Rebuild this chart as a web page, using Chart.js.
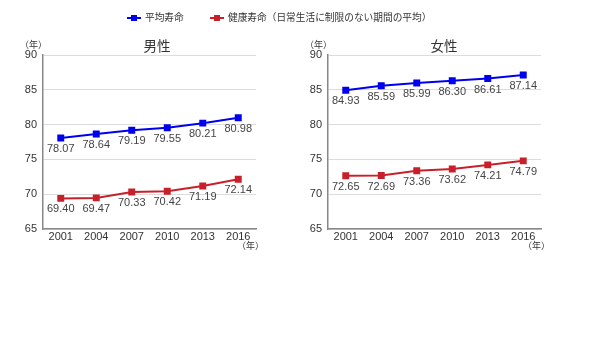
<!DOCTYPE html>
<html><head><meta charset="utf-8">
<script src="https://cdn.jsdelivr.net/npm/chart.js@4.4.0/dist/chart.umd.min.js"></script>
<style>
html,body{margin:0;padding:0;background:#fff;width:592px;height:355px;overflow:hidden;font-family:"Liberation Sans","Noto Sans CJK JP",sans-serif;}
.abs{position:absolute;white-space:nowrap;color:#333;}
#c1{position:absolute;left:0;top:0;}
#c2{position:absolute;left:296px;top:0;}
.leg{font-size:9.7px;font-family:"Noto Sans CJK JP",sans-serif;color:#333;}
.mk{position:absolute;height:2px;width:14px;}
.mk i{position:absolute;left:4px;top:-2px;width:6px;height:6px;}
.ttl{font-size:13.5px;font-family:"Noto Sans CJK JP",sans-serif;color:#333;transform:translateX(-50%);}
.unit{font-size:9px;font-family:"Noto Sans CJK JP",sans-serif;color:#333;}
</style></head>
<body>
<canvas id="c1" width="296" height="355"></canvas>
<canvas id="c2" width="296" height="355"></canvas>
<div class="mk" style="left:127px;top:17px;background:#0000ee"><i style="background:#0000ee"></i></div>
<div class="abs leg" style="left:145px;top:10px">平均寿命</div>
<div class="mk" style="left:210px;top:17px;background:#c8202a"><i style="background:#c8202a"></i></div>
<div class="abs leg" style="left:228px;top:10px">健康寿命（日常生活に制限のない期間の平均）</div>
<div class="abs ttl" style="left:157px;top:35px">男性</div>
<div class="abs ttl" style="left:444px;top:35px">女性</div>
<div class="abs unit" style="left:20px;top:38px">（年）</div>
<div class="abs unit" style="left:305px;top:38px">（年）</div>
<div class="abs unit" style="left:237px;top:239px">（年）</div>
<div class="abs unit" style="left:523px;top:239px">（年）</div>
<script>
const years = ['2001','2004','2007','2010','2013','2016'];
const maleAvg = [78.07, 78.64, 79.19, 79.55, 80.21, 80.98];
const maleHealthy = [69.40, 69.47, 70.33, 70.42, 71.19, 72.14];
const femaleAvg = [84.93, 85.59, 85.99, 86.30, 86.61, 87.14];
const femaleHealthy = [72.65, 72.69, 73.36, 73.62, 74.21, 74.79];
const seriesNames = ['平均寿命','健康寿命（日常生活に制限のない期間の平均）'];
const yMin = 65, yMax = 90, yStep = 5;

const labelPlugin = {
  id:'valLabels',
  afterDatasetsDraw(chart){
    const ctx = chart.ctx;
    ctx.save();
    ctx.font = '11px "Liberation Sans", Arial, sans-serif';
    ctx.fillStyle = '#444';
    ctx.textAlign = 'center';
    ctx.textBaseline = 'middle';
    chart.data.datasets.forEach((ds,i)=>{
      const meta = chart.getDatasetMeta(i);
      meta.data.forEach((pt,j)=>{
        ctx.fillText(ds.data[j].toFixed(2), pt.x, pt.y + 11);
      });
    });
    ctx.restore();
  }
};

function makeChart(id, avg, healthy, yWidth, padRight){
  return new Chart(document.getElementById(id), {
    type:'line',
    data:{
      labels: years,
      datasets:[
        {label:seriesNames[0], data:avg, borderColor:'#0000ee', backgroundColor:'#0000ee', borderWidth:2, pointStyle:'rect', pointRadius:3.5, tension:0},
        {label:seriesNames[1], data:healthy, borderColor:'#c8202a', backgroundColor:'#c8202a', borderWidth:2, pointStyle:'rect', pointRadius:3.5, tension:0}
      ]
    },
    options:{
      responsive:false, animation:false, devicePixelRatio:1,
      layout:{padding:{top:55,left:0,right:padRight,bottom:106}},
      plugins:{legend:{display:false}, tooltip:{enabled:false}},
      scales:{
        x:{
          offset:true,
          grid:{display:false, drawTicks:false},
          border:{color:'#888', width:1.5},
          ticks:{color:'#333', font:{size:11, family:'"Liberation Sans", Arial, sans-serif'}, padding:1, maxRotation:0},
          afterFit(s){ s.height = 20; }
        },
        y:{
          min:yMin, max:yMax,
          grid:{color:'#dcdcdc', drawTicks:false, lineWidth:1},
          border:{color:'#888', width:1.5},
          ticks:{stepSize:yStep, color:'#333', font:{size:11, family:'"Liberation Sans", Arial, sans-serif'}, padding:6},
          afterFit(s){ s.width = yWidth; }
        }
      }
    },
    plugins:[labelPlugin]
  });
}
makeChart('c1', maleAvg, maleHealthy, 43, 40);
makeChart('c2', femaleAvg, femaleHealthy, 32, 51);
</script>
</body></html>
